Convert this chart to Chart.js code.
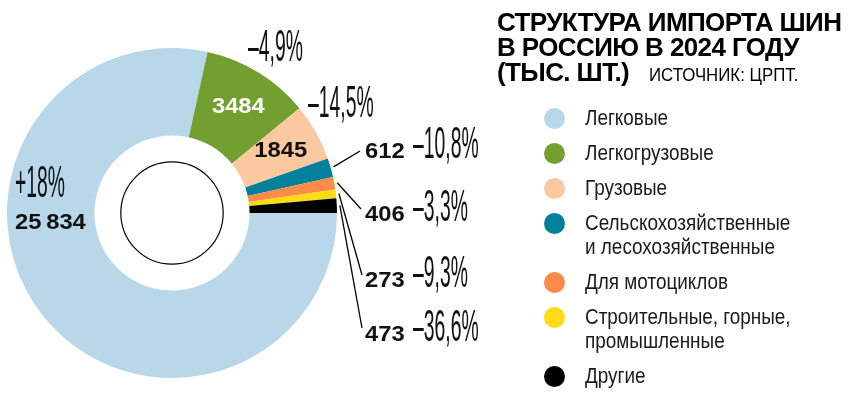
<!DOCTYPE html>
<html>
<head>
<meta charset="utf-8">
<script src="https://cdn.jsdelivr.net/npm/chart.js@4"></script>
<style>
  html, body { margin: 0; padding: 0; background: #fff; }
  #wrap { position: relative; width: 850px; height: 400px; overflow: hidden; }
  #c { position: absolute; left: 0; top: 0; }
  #title { position: absolute; left: 497px; top: 10px; font-family: "Liberation Sans", Arial, sans-serif; font-weight: bold; font-size: 26px; line-height: 25px; color: #000; white-space: nowrap; letter-spacing: -0.6px; }
  #title .src { display: inline-block; font-weight: normal; font-size: 19px; letter-spacing: 0; margin-left: 20px; transform: scaleX(0.885); transform-origin: left center; }
  #legend { position: absolute; left: 544px; top: 106px; display: flex; flex-direction: column; gap: 11px; }
  .item { display: flex; align-items: flex-start; }
  .dot { width: 21px; height: 21px; border-radius: 50%; margin-top: 1.5px; flex: none; }
  .lbl { margin-left: 20px; font-family: "Liberation Sans", Arial, sans-serif; font-size: 22px; line-height: 24px; white-space: pre-line; color: #1a1a1a; transform: scaleX(0.86); transform-origin: left top; }
</style>
</head>
<body>
<div id="wrap">
  <canvas id="c" width="850" height="400"></canvas>
  <div id="title">СТРУКТУРА ИМПОРТА ШИН<br>В РОССИЮ В 2024 ГОДУ<br>(ТЫС. ШТ.)<span class="src">ИСТОЧНИК: ЦРПТ.</span></div>
  <div id="legend"></div>
</div>
<script>
// ---- data ----
const categories = [
  'Легковые',
  'Легкогрузовые',
  'Грузовые',
  'Сельскохозяйственные\nи лесохозяйственные',
  'Для мотоциклов',
  'Строительные, горные,\nпромышленные',
  'Другие'
];
const values = [25834, 3484, 1845, 612, 406, 273, 473];
const changes = ['+18%', '–4,9%', '–14,5%', '–10,8%', '–3,3%', '–9,3%', '–36,6%'];

// ---- styles ----
const colors = ['#b8d8ea', '#72a030', '#fbc9a0', '#00809a', '#ff8b48', '#ffdc14', '#000000'];

function fmt(v) {
  const s = String(v);
  return v >= 10000 ? s.replace(/\B(?=(\d{3})+(?!\d))/g, '\u2009') : s;
}

// legend (HTML)
const legend = document.getElementById('legend');
categories.forEach((c, i) => {
  const it = document.createElement('div'); it.className = 'item';
  const d = document.createElement('div'); d.className = 'dot'; d.style.background = colors[i];
  const l = document.createElement('div'); l.className = 'lbl'; l.textContent = c;
  it.appendChild(d); it.appendChild(l); legend.appendChild(it);
});

// label layout (positions only)
const outsideChange = { 1: [248, 61], 2: [308, 117] };          // left x, baseline
const leaderRows = { 3: [360, 151, 158], 4: [361, 209, 221], 5: [362, 275, 287], 6: [362, 328, 341] }; // line end x,y, baseline

function tallText(ctx, text, x, y) {
  ctx.save();
  ctx.translate(x, y);
  ctx.scale(0.43, 1);
  ctx.font = '45px "Liberation Sans", Arial, sans-serif';
  ctx.textAlign = 'left';
  ctx.textBaseline = 'alphabetic';
  ctx.fillStyle = '#111';
  ctx.fillText(text, 0, 0);
  ctx.restore();
}

function boldNum(ctx, text, x, y, align, color) {
  ctx.save();
  ctx.translate(x, y);
  ctx.scale(1.08, 1);
  ctx.font = 'bold 22px "Liberation Sans", Arial, sans-serif';
  ctx.textAlign = align;
  ctx.fillStyle = color;
  ctx.fillText(text, 0, 0);
  ctx.restore();
}

const labelPlugin = {
  id: 'labels',
  afterDatasetsDraw(chart) {
    const ctx = chart.ctx;
    const meta = chart.getDatasetMeta(0);
    const arc0 = meta.data[0];
    const cx = arc0.x, cy = arc0.y, R = arc0.outerRadius, r = arc0.innerRadius;
    // inner thin circle
    ctx.save();
    ctx.beginPath();
    ctx.arc(cx, cy, r * 0.66, 0, Math.PI * 2);
    ctx.lineWidth = 1.2; ctx.strokeStyle = '#000'; ctx.stroke();
    ctx.restore();

    ctx.save();
    ctx.textBaseline = 'middle';
    // slice 0
    boldNum(ctx, fmt(values[0]), cx - R + 8, cy + 10, 'left', '#111');
    tallText(ctx, changes[0], cx - R + 8, cy - 16);
    // slices 1, 2 inside
    [1, 2].forEach(i => {
      const p = meta.data[i].tooltipPosition();
      ctx.textBaseline = 'middle';
      boldNum(ctx, fmt(values[i]), p.x + 3, p.y - 3, 'center', i === 1 ? '#fff' : '#111');
      tallText(ctx, changes[i], outsideChange[i][0], outsideChange[i][1]);
    });
    // small slices with leader lines
    [3, 4, 5, 6].forEach(i => {
      const a = meta.data[i];
      const mid = (a.startAngle + a.endAngle) / 2;
      const sx = cx + Math.cos(mid) * (R + 3), sy = cy + Math.sin(mid) * (R + 3);
      const [ex, ey, base] = leaderRows[i];
      ctx.beginPath(); ctx.moveTo(sx, sy); ctx.lineTo(ex, ey);
      ctx.lineWidth = 1.3; ctx.strokeStyle = '#000'; ctx.stroke();
      ctx.textBaseline = 'alphabetic';
      boldNum(ctx, fmt(values[i]), 365, base, 'left', '#111');
      tallText(ctx, changes[i], 413, base);
    });
    ctx.restore();
  }
};

new Chart(document.getElementById('c'), {
  type: 'doughnut',
  data: {
    labels: categories,
    datasets: [{ data: values, backgroundColor: colors, borderWidth: 0, hoverOffset: 0 }]
  },
  options: {
    responsive: false,
    animation: false,
    devicePixelRatio: 1,
    rotation: 90,
    cutout: '47%',
    layout: { padding: { left: 7, right: 513, top: 48, bottom: 22 } },
    plugins: { legend: { display: false }, tooltip: { enabled: false } }
  },
  plugins: [labelPlugin]
});
</script>
</body>
</html>
